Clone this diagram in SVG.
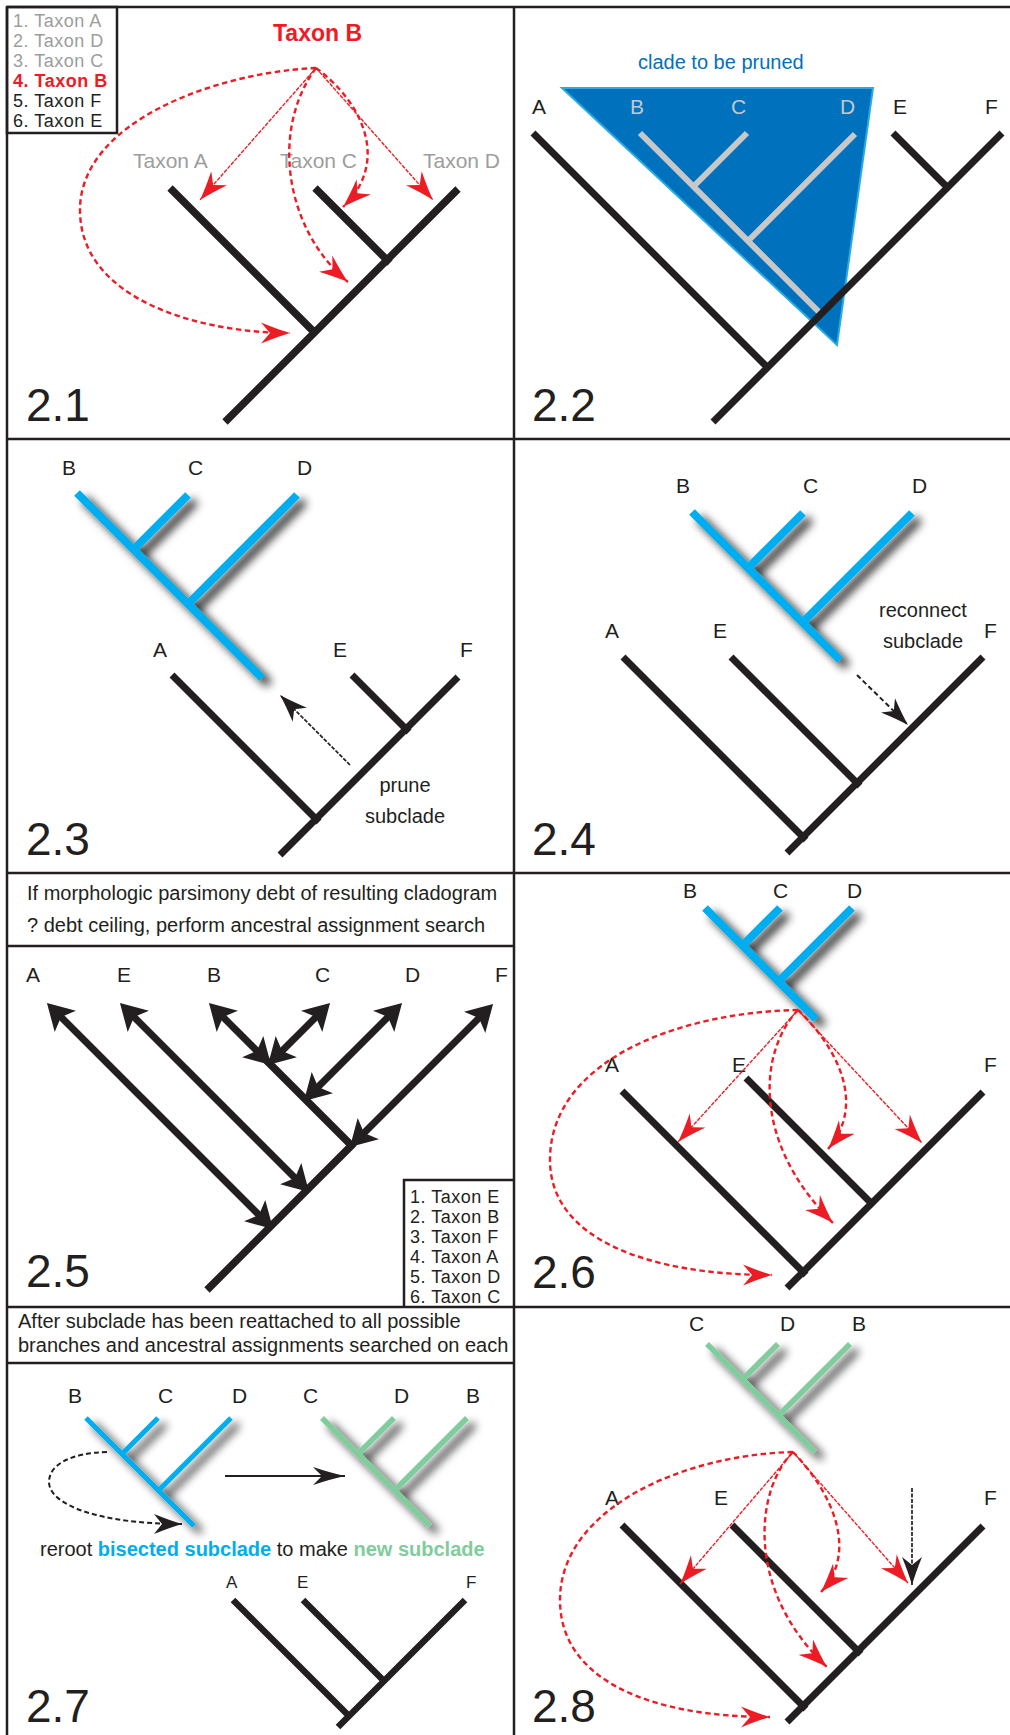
<svg xmlns="http://www.w3.org/2000/svg" width="1010" height="1735" viewBox="0 0 1010 1735">
<defs>
<style>
text{font-family:"Liberation Sans",Arial,Helvetica,sans-serif;fill:#231f20}
.frame{stroke:#231f20;stroke-width:2.5;fill:none}
.br{stroke:#231f20;stroke-width:7;fill:none}
.br7{stroke:#231f20;stroke-width:7.5;fill:none}
.br6{stroke:#231f20;stroke-width:6.5;fill:none}
.gr{stroke:#c8c8c8;stroke-width:6;fill:none}
.bl{stroke:#00aeef;stroke-width:8;fill:none}
.bl5{stroke:#00aeef;stroke-width:5;fill:none}
.gn{stroke:#80cc9c;stroke-width:5.5;fill:none}
.lab{font-size:21px}
.lab17{font-size:17px}
.num{font-size:46px}
.cap{font-size:20px}
.leg{font-size:18px;letter-spacing:0.5px}
.gray{fill:#9d9d9d}
.red{fill:#ed1c24;font-weight:bold}
.rthin{stroke:#ed1c24;stroke-width:1.4;stroke-dasharray:4 1.2;fill:none;marker-end:url(#hr)}
.rdash{stroke:#ed1c24;stroke-width:2.4;stroke-dasharray:5.5 3.5;fill:none;marker-end:url(#hr)}
.kdash{stroke:#231f20;stroke-width:2;stroke-dasharray:5 3;fill:none;marker-end:url(#hk)}
.kfine{stroke:#231f20;stroke-width:1.7;stroke-dasharray:4 1.5;fill:none;marker-end:url(#hk)}
.fat{stroke:#231f20;stroke-width:7;fill:none;marker-start:url(#hf);marker-end:url(#hf)}
</style>
<marker id="hr" viewBox="-29 -11 29 22" refX="0" refY="0" markerWidth="29" markerHeight="22" markerUnits="userSpaceOnUse" orient="auto">
<path d="M0,0 Q-12,-3.5 -29,-10.5 L-20,0 L-29,10.5 Q-12,3.5 0,0 Z" fill="#ed1c24"/>
</marker>
<marker id="hk" viewBox="-28 -11 28 22" refX="0" refY="0" markerWidth="28" markerHeight="22" markerUnits="userSpaceOnUse" orient="auto">
<path d="M0,0 Q-12,-3.5 -28,-10 L-20,0 L-28,10 Q-12,3.5 0,0 Z" fill="#231f20"/>
</marker>
<marker id="hk2" viewBox="-32 -10 32 20" refX="0" refY="0" markerWidth="32" markerHeight="20" markerUnits="userSpaceOnUse" orient="auto">
<path d="M0,0 Q-14,-3 -32,-9 L-23,0 L-32,9 Q-14,3 0,0 Z" fill="#231f20"/>
</marker>
<marker id="hf" viewBox="-27 -16 27 32" refX="-10" refY="0" markerWidth="27" markerHeight="32" markerUnits="userSpaceOnUse" orient="auto-start-reverse">
<path d="M0,0 L-26,-15 L-20,0 L-26,15 Z" fill="#231f20"/>
</marker>
<filter id="sh" x="-30%" y="-30%" width="170%" height="170%">
<feGaussianBlur in="SourceAlpha" stdDeviation="5"/>
<feOffset dx="7" dy="6"/>
<feComponentTransfer><feFuncA type="linear" slope="0.9"/></feComponentTransfer>
<feMerge><feMergeNode/><feMergeNode in="SourceGraphic"/></feMerge>
</filter>
</defs>
<rect width="1010" height="1735" fill="#fff"/>

<!-- panel frame -->
<g id="frame" class="frame">
<path d="M7,7 H1010 M7,7 V1735 M514,7 V1735 M7,439 H1010 M7,873 H1010 M7,1307 H1010 M7,946 H514 M7,1363 H514"/>
</g>

<!-- 2.1 : candidate placements for taxon B -->
<g id="p21">
<rect class="frame" x="7" y="7" width="110" height="126"/>
<text class="leg gray" x="13" y="27">1. Taxon A</text>
<text class="leg gray" x="13" y="47">2. Taxon D</text>
<text class="leg gray" x="13" y="67">3. Taxon C</text>
<text class="leg red" x="13" y="87" letter-spacing="0">4. Taxon B</text>
<text class="leg" x="13" y="107">5. Taxon F</text>
<text class="leg" x="13" y="127">6. Taxon E</text>
<text class="red" x="273" y="41" font-size="23">Taxon B</text>
<text class="lab gray" x="133" y="168">Taxon A</text>
<text class="lab gray" x="280" y="168">Taxon C</text>
<text class="lab gray" x="423" y="168">Taxon D</text>
<path class="br7" d="M170,188 L317,335 M315,188 L390,263 M225,422 L458,189"/>
<path class="rthin" d="M316,68 L200,200"/>
<path class="rthin" d="M316,68 L433,200"/>
<path class="rdash" d="M316,68 C360,100 392,160 343,207"/>
<path class="rdash" d="M316,68 C270,130 285,230 348,282"/>
<path class="rdash" d="M316,68 C220,72 80,120 80,210 C80,300 200,333 290,333"/>
<text class="num" x="26" y="421">2.1</text>
</g>

<!-- 2.2 : clade to be pruned -->
<g id="p22">
<polygon points="562,88 873,88 837,345" fill="#0071bc" stroke="#29abe2" stroke-width="2"/>
<path class="gr" d="M640,133 L820,313 M747,133 L693,187 M855,134 L748,241"/>
<path class="br" d="M533,133 L770,370 M893,133 L950,190 M713,422 L1002,133"/>
<text class="cap" x="638" y="69" style="fill:#0071bc">clade to be pruned</text>
<text class="lab" x="532" y="114">A</text>
<text class="lab" x="630" y="114" style="fill:#c8c8c8">B</text>
<text class="lab" x="731" y="114" style="fill:#c8c8c8">C</text>
<text class="lab" x="840" y="114" style="fill:#c8c8c8">D</text>
<text class="lab" x="893" y="114">E</text>
<text class="lab" x="985" y="114">F</text>
<text class="num" x="532" y="421">2.2</text>
</g>

<!-- 2.3 : prune subclade -->
<g id="p23">
<path class="bl" filter="url(#sh)" d="M77,493 L262,678 M188,495 L133,550 M297,495 L188,604"/>
<path class="br" d="M172,675 L319,822 M352,675 L409,732 M280,855 L458,677"/>
<text class="lab" x="62" y="475">B</text>
<text class="lab" x="188" y="475">C</text>
<text class="lab" x="297" y="475">D</text>
<text class="lab" x="153" y="657">A</text>
<text class="lab" x="333" y="657">E</text>
<text class="lab" x="460" y="657">F</text>
<path class="kfine" d="M350,765 L280,695"/>
<text class="cap" x="405" y="792" text-anchor="middle">prune</text>
<text class="cap" x="405" y="823" text-anchor="middle">subclade</text>
<text class="num" x="26" y="855">2.3</text>
</g>

<!-- 2.4 : reconnect subclade -->
<g id="p24">
<path class="bl" filter="url(#sh)" d="M692,512 L840,660 M803,513 L748,568 M912,513 L802,623"/>
<path class="br" d="M623,657 L806,840 M731,657 L860,786 M787,853 L983,657"/>
<text class="lab" x="676" y="493">B</text>
<text class="lab" x="803" y="493">C</text>
<text class="lab" x="912" y="493">D</text>
<text class="lab" x="605" y="638">A</text>
<text class="lab" x="713" y="638">E</text>
<text class="lab" x="984" y="638">F</text>
<text class="cap" x="923" y="617" text-anchor="middle">reconnect</text>
<text class="cap" x="923" y="648" text-anchor="middle">subclade</text>
<path class="kdash" d="M857,675 L908,725"/>
<text class="num" x="532" y="855">2.4</text>
</g>

<!-- 2.5 : ancestral assignment search -->
<g id="p25">
<text class="cap" x="27" y="900">If morphologic parsimony debt of resulting cladogram</text>
<text class="cap" x="27" y="932">? debt ceiling, perform ancestral assignment search</text>
<text class="lab" x="26" y="982">A</text>
<text class="lab" x="117" y="982">E</text>
<text class="lab" x="207" y="982">B</text>
<text class="lab" x="315" y="982">C</text>
<text class="lab" x="405" y="982">D</text>
<text class="lab" x="495" y="982">F</text>
<path class="br7" d="M262,1056 L353,1147 M354,1143 L207,1290"/>
<path class="fat" d="M54,1010 L266,1222"/>
<path class="fat" d="M127,1010 L302,1185"/>
<path class="fat" d="M216,1010 L264,1058"/>
<path class="fat" d="M323,1010 L275,1058"/>
<path class="fat" d="M395,1010 L311,1094"/>
<path class="fat" d="M486,1011 L357,1140"/>
<g id="legend25">
<text class="leg" x="410" y="1203">1. Taxon E</text>
<text class="leg" x="410" y="1223">2. Taxon B</text>
<text class="leg" x="410" y="1243">3. Taxon F</text>
<text class="leg" x="410" y="1263">4. Taxon A</text>
<text class="leg" x="410" y="1283">5. Taxon D</text>
<text class="leg" x="410" y="1303">6. Taxon C</text>
<path class="frame" d="M404,1307 V1180 H514"/>
</g>
<text class="num" x="26" y="1287">2.5</text>
</g>

<!-- 2.6 : reattachment points for the subclade -->
<g id="p26">
<path class="bl" filter="url(#sh)" stroke-width="8.5" d="M705,908 L816,1019 M780,908 L742,946 M852,908 L778,982"/>
<path class="br" d="M622,1091 L806,1275 M746,1078 L874,1206 M787,1288 L983,1092"/>
<text class="lab" x="683" y="898">B</text>
<text class="lab" x="773" y="898">C</text>
<text class="lab" x="847" y="898">D</text>
<text class="lab" x="605" y="1072">A</text>
<text class="lab" x="732" y="1072">E</text>
<text class="lab" x="984" y="1072">F</text>
<path class="rthin" d="M798,1010 L678,1142"/>
<path class="rthin" d="M798,1010 L922,1143"/>
<path class="rdash" d="M798,1010 C830,1040 870,1100 828,1149"/>
<path class="rdash" d="M798,1010 C760,1050 750,1140 833,1223"/>
<path class="rdash" d="M798,1010 C680,1012 550,1060 550,1160 C550,1240 650,1275 772,1275"/>
<text class="num" x="532" y="1288">2.6</text>
</g>

<!-- 2.7 : reroot the subclade -->
<g id="p27">
<text class="cap" x="18" y="1328">After subclade has been reattached to all possible</text>
<text class="cap" x="18" y="1352">branches and ancestral assignments searched on each</text>
<path class="bl5" filter="url(#sh)" d="M86,1418 L194,1526 M158,1418 L122,1454 M231,1418 L158,1491"/>
<path class="gn" filter="url(#sh)" stroke-width="5" d="M322,1418 L430,1526 M394,1418 L358,1454 M467,1418 L394,1491"/>
<text class="lab" x="68" y="1403">B</text>
<text class="lab" x="158" y="1403">C</text>
<text class="lab" x="232" y="1403">D</text>
<text class="lab" x="303" y="1403">C</text>
<text class="lab" x="394" y="1403">D</text>
<text class="lab" x="466" y="1403">B</text>
<path d="M225,1476 L345,1476" stroke="#231f20" stroke-width="1.8" fill="none" marker-end="url(#hk2)"/>
<path class="kdash" stroke-width="2.2" d="M107,1452 C70,1453 49,1465 49,1482 C49,1505 100,1524 182,1524"/>
<text class="cap" x="40" y="1556">reroot <tspan font-weight="bold" style="fill:#00aeef">bisected subclade</tspan> to make <tspan font-weight="bold" style="fill:#80cc9c">new subclade</tspan></text>
<path class="br6" d="M233,1600 L351,1718 M303,1600 L386,1683 M338,1727 L465,1600"/>
<text class="lab17" x="226" y="1588">A</text>
<text class="lab17" x="297" y="1588">E</text>
<text class="lab17" x="466" y="1588">F</text>
<text class="num" x="26" y="1722">2.7</text>
</g>

<!-- 2.8 : new subclade reattached -->
<g id="p28">
<path class="gn" filter="url(#sh)" d="M707,1344 L815,1452 M778,1344 L742,1380 M850,1344 L778,1416"/>
<path class="br" d="M622,1525 L806,1709 M732,1525 L861,1654 M787,1722 L983,1526"/>
<text class="lab" x="689" y="1331">C</text>
<text class="lab" x="780" y="1331">D</text>
<text class="lab" x="852" y="1331">B</text>
<text class="lab" x="605" y="1505">A</text>
<text class="lab" x="714" y="1505">E</text>
<text class="lab" x="984" y="1505">F</text>
<path class="kfine" d="M912,1488 L912,1585"/>
<path class="rthin" d="M793,1452 L680,1584"/>
<path class="rthin" d="M793,1452 L908,1583"/>
<path class="rdash" d="M793,1452 C830,1490 860,1550 821,1592"/>
<path class="rdash" d="M793,1452 C755,1490 745,1590 827,1667"/>
<path class="rdash" d="M793,1452 C680,1455 560,1510 560,1600 C560,1680 650,1717 770,1717"/>
<text class="num" x="532" y="1722">2.8</text>
</g>
</svg>
